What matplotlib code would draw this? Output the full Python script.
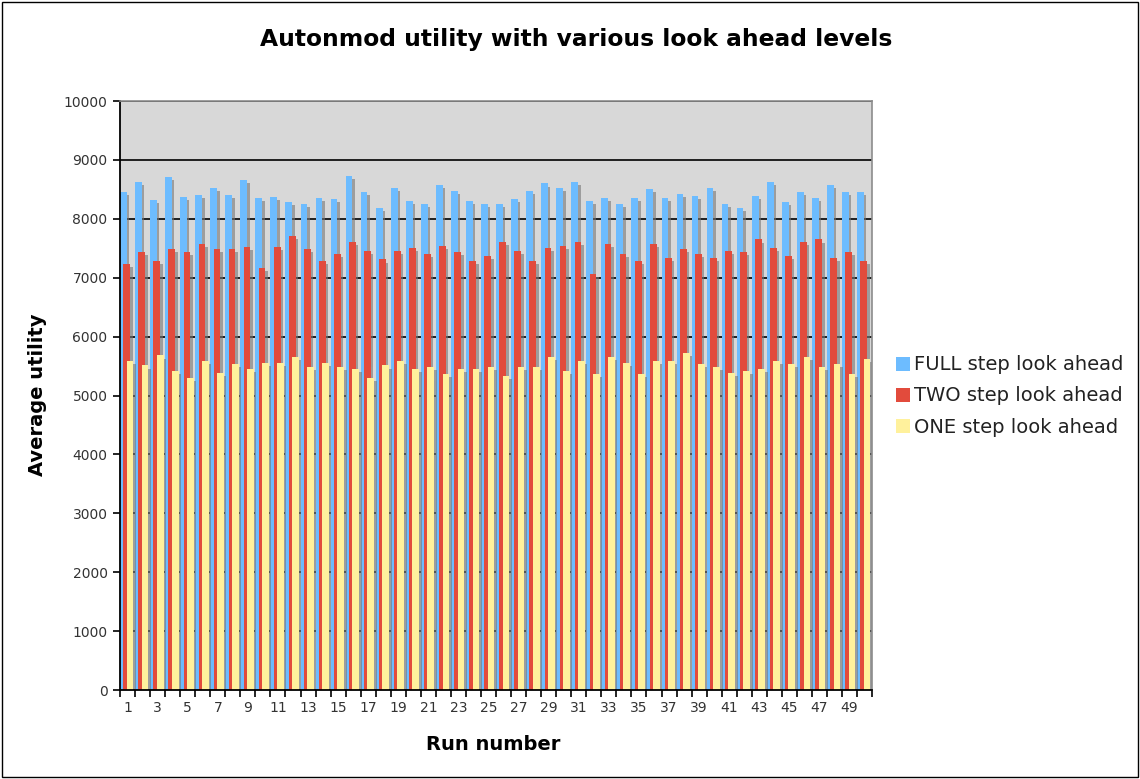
import matplotlib
matplotlib.use('Agg')
import matplotlib.pyplot as plt
import matplotlib.patheffects as pe
from matplotlib.patches import Rectangle, Patch
import numpy as np

# run numbers 1..50
runs = list(range(1, 51))

full = [8460, 8630, 8320, 8710, 8370, 8400, 8520, 8400, 8660, 8350,
        8370, 8290, 8260, 8360, 8340, 8720, 8450, 8190, 8530, 8310,
        8250, 8570, 8480, 8310, 8250, 8250, 8340, 8480, 8600, 8520,
        8630, 8310, 8360, 8250, 8360, 8510, 8360, 8430, 8390, 8530,
        8250, 8190, 8390, 8620, 8280, 8450, 8360, 8570, 8450, 8450]

two = [7230, 7430, 7280, 7490, 7430, 7570, 7490, 7490, 7520, 7170,
       7520, 7710, 7490, 7280, 7400, 7600, 7450, 7310, 7450, 7510,
       7400, 7540, 7430, 7280, 7370, 7600, 7450, 7280, 7510, 7540,
       7600, 7070, 7570, 7400, 7280, 7570, 7340, 7490, 7400, 7340,
       7450, 7430, 7650, 7510, 7370, 7600, 7650, 7340, 7430, 7280]

one = [5590, 5510, 5680, 5420, 5300, 5590, 5390, 5540, 5450, 5560,
       5560, 5650, 5480, 5560, 5480, 5450, 5300, 5510, 5590, 5450,
       5480, 5370, 5450, 5450, 5480, 5330, 5480, 5480, 5650, 5420,
       5590, 5370, 5650, 5560, 5370, 5590, 5590, 5730, 5540, 5480,
       5390, 5420, 5450, 5590, 5540, 5650, 5480, 5540, 5370, 5620]

labels = ['FULL step look ahead', 'TWO step look ahead', 'ONE step look ahead']
colors = ['#6dbcff', '#e24b3c', '#fff19c']

fig = plt.figure(figsize=(11.4, 7.79), dpi=100)
ax = fig.add_axes([0.1053, 0.1142, 0.6597, 0.7561])
ax.set_facecolor('#d8d8d8')

x = np.arange(len(runs))
w = 0.45
shadow = [pe.SimplePatchShadow(offset=(1.8, -2.2), shadow_rgbFace='#777777', alpha=0.6),
          pe.Normal()]
for vals, off, col in zip([full, two, one], [0.0, 0.22, 0.44], colors):
    bars = ax.bar(x - 0.5 + off, vals, width=w, align='edge', color=col, linewidth=0)
    for b in bars:
        b.set_path_effects(shadow)

ax.set_xlim(-0.5, len(runs) - 0.5)
ax.set_ylim(0, 10000)
ax.set_yticks(range(0, 10001, 1000))
ax.set_axisbelow(True)
ax.yaxis.grid(True, color='black', linewidth=1.2)

# ticks between categories, labels on odd runs
ax.set_xticks(np.arange(-0.5, len(runs), 1.0))
ax.set_xticklabels([])
ax.set_xticks(x[::2], minor=True)
ax.set_xticklabels([str(r) for r in runs[::2]], minor=True)
ax.tick_params(axis='x', which='minor', length=0, pad=8, labelsize=10, labelcolor='#333333')
ax.tick_params(axis='x', which='major', length=5, width=1.2)
ax.tick_params(axis='y', length=5, width=1.2, labelsize=10, pad=4, labelcolor='#333333')

for s in ['left', 'bottom']:
    ax.spines[s].set_color('black')
    ax.spines[s].set_linewidth(1.3)
for s in ['top', 'right']:
    ax.spines[s].set_color('#8c8c8c')
    ax.spines[s].set_linewidth(1.2)

fig.text(0.5057, 0.949, 'Autonmod utility with various look ahead levels',
         ha='center', va='center', fontsize=16.8, fontweight='bold')
fig.text(0.4325, 0.0437, 'Run number', ha='center', va='center',
         fontsize=14, fontweight='bold')
fig.text(0.0333, 0.493, 'Average utility', ha='center', va='center',
         rotation=90, fontsize=14, fontweight='bold')

handles = [Patch(facecolor=c, edgecolor='none') for c in colors]
fig.legend(handles, labels, loc='center left', bbox_to_anchor=(0.779, 0.4917),
           frameon=False, fontsize=14, handlelength=0.75, handleheight=0.75,
           handletextpad=0.2, labelspacing=0.62, borderaxespad=0,
           labelcolor='#222222')

fig.patches.append(Rectangle((0.002, 0.003), 0.996, 0.994, transform=fig.transFigure,
                             fill=False, edgecolor='black', linewidth=1))

plt.savefig('out.png', dpi=100)
